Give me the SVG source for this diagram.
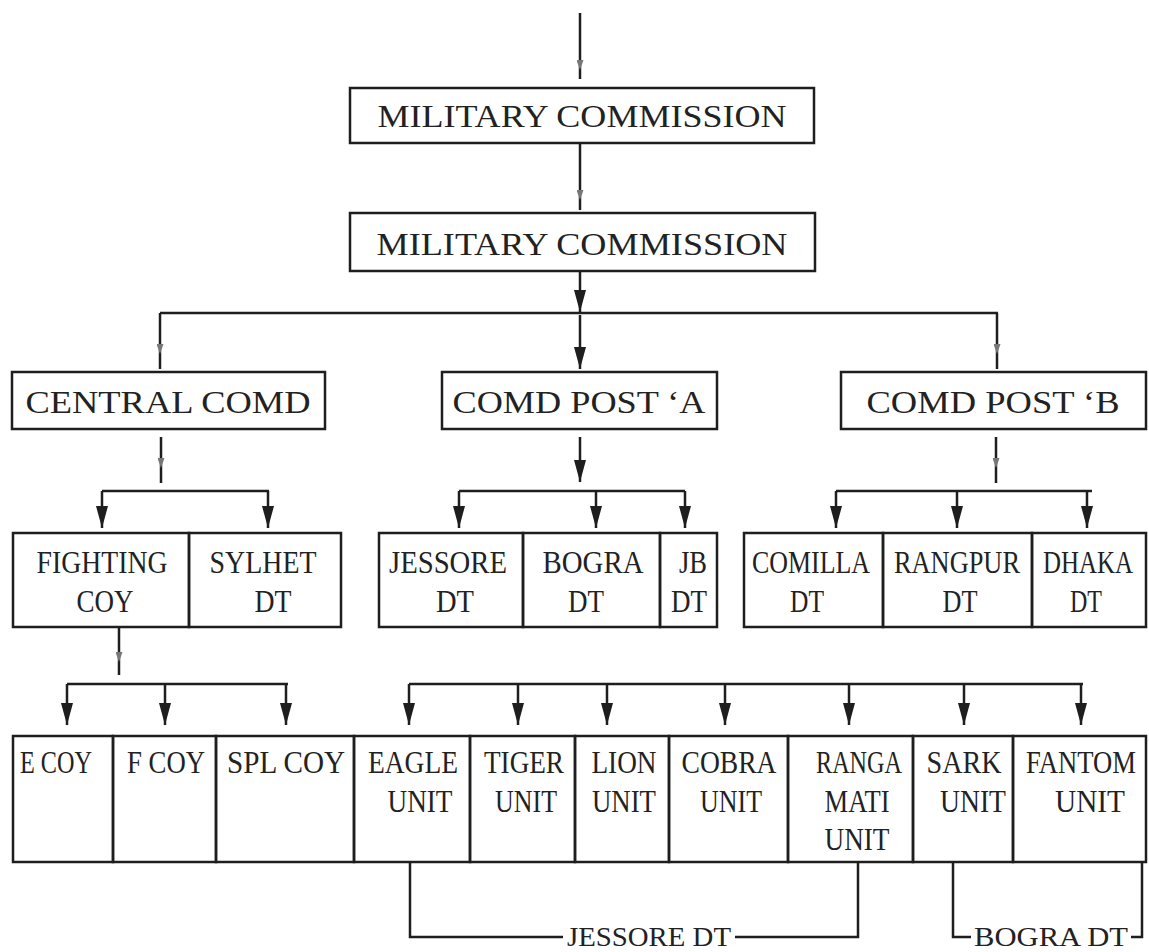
<svg xmlns="http://www.w3.org/2000/svg" width="1149" height="952" viewBox="0 0 1149 952">
<style>
.box{fill:none;stroke:#1e1e1e;stroke-width:2.5}
.t{font-family:"Liberation Serif","Times New Roman",serif;font-size:31px;fill:#222;text-anchor:middle}
.lb{font-family:"Liberation Serif","Times New Roman",serif;font-size:28px;fill:#222;text-anchor:middle}
.c{stroke:#1e1e1e;stroke-width:2.5;fill:none}
.ca{stroke:#1e1e1e;stroke-width:2.5;fill:none;marker-end:url(#big)}
.cs{stroke:#1e1e1e;stroke-width:2.5;fill:none;marker-end:url(#small)}
</style>
<defs>
<marker id="big" markerUnits="userSpaceOnUse" markerWidth="22" markerHeight="12" refX="22" refY="6" orient="auto" viewBox="0 0 22 12"><path d="M0,0 L22,6 L0,12 z" fill="#1e1e1e"/></marker>
<marker id="small" markerUnits="userSpaceOnUse" markerWidth="10" markerHeight="7" refX="10" refY="3.5" orient="auto" viewBox="0 0 10 7"><path d="M0,0 L10,3.5 L0,7 z" fill="#777"/></marker>
</defs>
<rect width="1149" height="952" fill="#fff"/>
<g id="connectors">
<path class="cs" d="M580,13 V70"/><path class="c" d="M580,70 V79"/>
<path class="cs" d="M580,144 V200"/><path class="c" d="M580,200 V210"/>
<path class="ca" d="M580,271 V312"/>
<path class="c" d="M160,313 H998"/>
<path class="cs" d="M160,313 V354"/><path class="c" d="M160,354 V369"/>
<path class="ca" d="M580,315 V369"/>
<path class="cs" d="M997,313 V354"/><path class="c" d="M997,354 V369"/>
<path class="cs" d="M161,437 V468"/><path class="c" d="M161,468 V483"/>
<path class="ca" d="M580,437 V482"/>
<path class="cs" d="M996,437 V468"/><path class="c" d="M996,468 V483"/>
<path class="c" d="M102,491 H269"/>
<path class="c" d="M459,491 H685"/>
<path class="c" d="M836,491 H1092"/>
<path class="ca" d="M102,491 V528"/>
<path class="ca" d="M268,491 V528"/>
<path class="ca" d="M459,491 V528"/>
<path class="ca" d="M596,491 V528"/>
<path class="ca" d="M685,491 V528"/>
<path class="ca" d="M836,491 V528"/>
<path class="ca" d="M957,491 V528"/>
<path class="ca" d="M1087,491 V528"/>
<path class="cs" d="M119,628 V662"/><path class="c" d="M119,662 V675"/>
<path class="c" d="M67,684 H288"/>
<path class="c" d="M409,684 H1083"/>
<path class="ca" d="M67,684 V725"/>
<path class="ca" d="M165,684 V725"/>
<path class="ca" d="M286,684 V725"/>
<path class="ca" d="M409,684 V725"/>
<path class="ca" d="M518,684 V725"/>
<path class="ca" d="M607,684 V725"/>
<path class="ca" d="M725,684 V725"/>
<path class="ca" d="M849,684 V725"/>
<path class="ca" d="M964,684 V725"/>
<path class="ca" d="M1081,684 V725"/>
<path class="c" d="M410,862 V937 H563"/>
<path class="c" d="M735,937 H858 V862"/>
<path class="c" d="M953,862 V937 H971"/>
<path class="c" d="M1131,937 H1142 V862"/>
</g>
<g id="mc1"><rect class="box" x="350" y="88" width="464" height="55"/><text class="t" x="582" y="127" textLength="409" lengthAdjust="spacingAndGlyphs">MILITARY COMMISSION</text></g>
<g id="mc2"><rect class="box" x="350" y="213" width="465" height="58"/><text class="t" x="582" y="255" textLength="411" lengthAdjust="spacingAndGlyphs">MILITARY COMMISSION</text></g>
<g id="central"><rect class="box" x="12" y="372" width="313" height="57"/><text class="t" x="168" y="413" textLength="285" lengthAdjust="spacingAndGlyphs">CENTRAL COMD</text></g>
<g id="postA"><rect class="box" x="442" y="372" width="275" height="57"/><text class="t" x="579" y="413" textLength="253" lengthAdjust="spacingAndGlyphs">COMD POST ‘A</text></g>
<g id="postB"><rect class="box" x="841" y="372" width="305" height="57"/><text class="t" x="993" y="413" textLength="253" lengthAdjust="spacingAndGlyphs">COMD POST ‘B</text></g>
<g id="fighting"><rect class="box" x="13" y="533" width="176" height="94"/><text class="t" x="102" y="573" textLength="131" lengthAdjust="spacingAndGlyphs">FIGHTING</text><text class="t" x="105" y="612" textLength="57" lengthAdjust="spacingAndGlyphs">COY</text></g>
<g id="sylhet"><rect class="box" x="189" y="533" width="152" height="94"/><text class="t" x="263" y="573" textLength="107" lengthAdjust="spacingAndGlyphs">SYLHET</text><text class="t" x="273" y="612" textLength="37" lengthAdjust="spacingAndGlyphs">DT</text></g>
<g id="jessore"><rect class="box" x="379" y="533" width="144" height="94"/><text class="t" x="448" y="573" textLength="118" lengthAdjust="spacingAndGlyphs">JESSORE</text><text class="t" x="455" y="612" textLength="38" lengthAdjust="spacingAndGlyphs">DT</text></g>
<g id="bogra"><rect class="box" x="523" y="533" width="137" height="94"/><text class="t" x="593" y="573" textLength="101" lengthAdjust="spacingAndGlyphs">BOGRA</text><text class="t" x="586" y="612" textLength="36" lengthAdjust="spacingAndGlyphs">DT</text></g>
<g id="jb"><rect class="box" x="660" y="533" width="57" height="94"/><text class="t" x="693" y="573" textLength="28" lengthAdjust="spacingAndGlyphs">JB</text><text class="t" x="689" y="612" textLength="36" lengthAdjust="spacingAndGlyphs">DT</text></g>
<g id="comilla"><rect class="box" x="744" y="533" width="139" height="94"/><text class="t" x="811" y="573" textLength="118" lengthAdjust="spacingAndGlyphs">COMILLA</text><text class="t" x="807" y="612" textLength="34" lengthAdjust="spacingAndGlyphs">DT</text></g>
<g id="rangpur"><rect class="box" x="883" y="533" width="149" height="94"/><text class="t" x="957" y="573" textLength="126" lengthAdjust="spacingAndGlyphs">RANGPUR</text><text class="t" x="960" y="612" textLength="35" lengthAdjust="spacingAndGlyphs">DT</text></g>
<g id="dhaka"><rect class="box" x="1032" y="533" width="114" height="94"/><text class="t" x="1088" y="573" textLength="90" lengthAdjust="spacingAndGlyphs">DHAKA</text><text class="t" x="1086" y="612" textLength="32" lengthAdjust="spacingAndGlyphs">DT</text></g>
<g id="ecoy"><rect class="box" x="13" y="736" width="100" height="126"/><text class="t" x="56" y="773" textLength="72" lengthAdjust="spacingAndGlyphs">E COY</text></g>
<g id="fcoy"><rect class="box" x="113" y="736" width="103" height="126"/><text class="t" x="166" y="773" textLength="78" lengthAdjust="spacingAndGlyphs">F COY</text></g>
<g id="splcoy"><rect class="box" x="216" y="736" width="138" height="126"/><text class="t" x="286" y="773" textLength="118" lengthAdjust="spacingAndGlyphs">SPL COY</text></g>
<g id="eagle"><rect class="box" x="354" y="736" width="116" height="126"/><text class="t" x="413" y="773" textLength="90" lengthAdjust="spacingAndGlyphs">EAGLE</text><text class="t" x="420" y="812" textLength="65" lengthAdjust="spacingAndGlyphs">UNIT</text></g>
<g id="tiger"><rect class="box" x="470" y="736" width="105" height="126"/><text class="t" x="524" y="773" textLength="80" lengthAdjust="spacingAndGlyphs">TIGER</text><text class="t" x="526" y="812" textLength="62" lengthAdjust="spacingAndGlyphs">UNIT</text></g>
<g id="lion"><rect class="box" x="575" y="736" width="94" height="126"/><text class="t" x="624" y="773" textLength="65" lengthAdjust="spacingAndGlyphs">LION</text><text class="t" x="624" y="812" textLength="64" lengthAdjust="spacingAndGlyphs">UNIT</text></g>
<g id="cobra"><rect class="box" x="669" y="736" width="119" height="126"/><text class="t" x="729" y="773" textLength="95" lengthAdjust="spacingAndGlyphs">COBRA</text><text class="t" x="731" y="812" textLength="62" lengthAdjust="spacingAndGlyphs">UNIT</text></g>
<g id="rangamati"><rect class="box" x="788" y="736" width="125" height="126"/><text class="t" x="859" y="773" textLength="86" lengthAdjust="spacingAndGlyphs">RANGA</text><text class="t" x="857" y="812" textLength="65" lengthAdjust="spacingAndGlyphs">MATI</text><text class="t" x="857" y="850" textLength="65" lengthAdjust="spacingAndGlyphs">UNIT</text></g>
<g id="sark"><rect class="box" x="913" y="736" width="100" height="126"/><text class="t" x="964" y="773" textLength="75" lengthAdjust="spacingAndGlyphs">SARK</text><text class="t" x="973" y="812" textLength="66" lengthAdjust="spacingAndGlyphs">UNIT</text></g>
<g id="fantom"><rect class="box" x="1013" y="736" width="133" height="126"/><text class="t" x="1081" y="773" textLength="110" lengthAdjust="spacingAndGlyphs">FANTOM</text><text class="t" x="1090" y="812" textLength="70" lengthAdjust="spacingAndGlyphs">UNIT</text></g>
<g id="label-jessore"><text class="lb" x="649" y="946" textLength="164" lengthAdjust="spacingAndGlyphs">JESSORE DT</text></g>
<g id="label-bogra"><text class="lb" x="1051" y="946" textLength="154" lengthAdjust="spacingAndGlyphs">BOGRA DT</text></g>
</svg>
